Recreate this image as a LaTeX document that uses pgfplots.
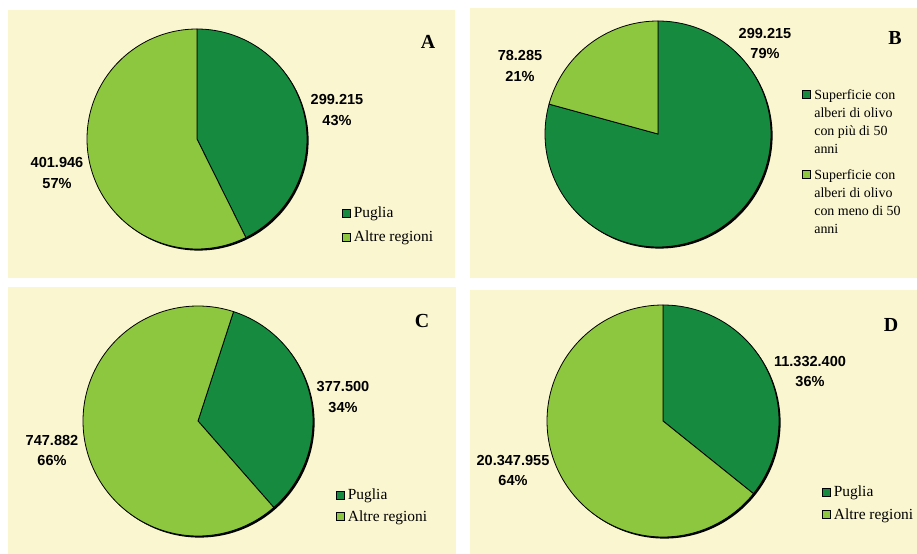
\documentclass[border=0pt]{standalone}
\usepackage{pgfplots}
\pgfplotsset{compat=1.18}
\usepackage{fontspec}
\setmainfont{Liberation Serif}
\newfontfamily\arial{Liberation Sans}
\definecolor{bgc}{RGB}{250,246,208}
\definecolor{dk}{RGB}{22,138,62}
\definecolor{lt}{RGB}{141,198,63}

% data (values)
\def\vAa{299.215}\def\vAb{401.946}
\def\vBa{299.215}\def\vBb{78.285}
\def\vCa{377.500}\def\vCb{747.882}
\def\vDa{11332400}\def\vDb{20347955}
\edef\Aend{\fpeval{round(90-360*\vAa/(\vAa+\vAb),3)}}
\edef\Bend{\fpeval{round(90-360*\vBa/(\vBa+\vBb),3)}}
\edef\Cend{\fpeval{round(72-360*\vCa/(\vCa+\vCb),3)}}
\edef\Dend{\fpeval{round(90-360*\vDa/(\vDa+\vDb),3)}}

\pgfplotsset{
  pie/.style={scale only axis, hide axis, clip=false, y dir=reverse,
    enlargelimits=false, samples=150, legend cell align=left,
    legend image code/.code={\draw[##1,draw=black,line width=0.6bp] (0bp,-4bp) rectangle (8bp,4bp); \path (10.5bp,0bp);},
    legend style={draw=none, fill=none, inner sep=0pt, anchor=north west,
      nodes={inner xsep=0.5bp},
      font=\fontsize{15.5}{17}\selectfont, row sep=7.5bp}},
}
% background rectangle
\newcommand\bgrect[2]{\addplot[fill=bgc, draw=none, forget plot] coordinates {(0,0)(#1,0)(#1,#2)(0,#2)} -- cycle;}
% shadow: cx cy r
\newcommand\shadow[3]{\addplot[fill=black, draw=none, forget plot, domain=0:360] ({#1+1.6+#3*cos(x)},{#2+1.6-#3*sin(x)}) -- cycle;}
% slice: color cx cy r from to
\newcommand\slice[6]{\addplot[fill=#1, draw=black, line width=0.8bp, domain=#5:#6] ({#2+#4*cos(x)},{#3-#4*sin(x)}) -- (axis cs:#2,#3) -- cycle;}
\newcommand\lbl{\arial\bfseries\fontsize{14.6}{20.5}\selectfont}

\begin{document}
\begin{tikzpicture}
\path[use as bounding box] (0,0) rectangle (917bp,554bp);
\fill[white] (0,0) rectangle (917bp,554bp);

% ---------------- A
\begin{axis}[pie, at={(8bp,544bp)}, anchor=north west, width=447bp, height=268bp,
  xmin=0, xmax=447, ymin=0, ymax=268,
  legend style={at={(axis cs:334,195)}}]
\bgrect{447}{268}
\shadow{189}{129}{110}
\slice{dk}{189}{129}{110}{\Aend}{90}
\slice{lt}{189}{129}{110}{-270}{\Aend}
\addlegendentry{Puglia}
\addlegendentry{Altre regioni}
\node[font=\lbl, align=center] at (axis cs:329,100) {299.215\\43\%};
\node[font=\lbl, align=center] at (axis cs:49,163) {401.946\\57\%};
\node[font=\bfseries\fontsize{20}{22}\selectfont] at (axis cs:420,32) {A};
\end{axis}

% ---------------- B
\begin{axis}[pie, at={(470bp,546bp)}, anchor=north west, width=447bp, height=270bp,
  xmin=0, xmax=447, ymin=0, ymax=270,
  legend image code/.code={\draw[#1,draw=black,line width=0.6bp] (0bp,-4bp) rectangle (8bp,4bp);},
  legend style={at={(axis cs:332,77)}, font=\fontsize{14}{18}\selectfont,
    nodes={inner xsep=3.5bp}, row sep=62bp}]
\bgrect{447}{270}
\shadow{188}{126}{113}
\slice{dk}{188}{126}{113}{\Bend}{90}
\slice{lt}{188}{126}{113}{-270}{\Bend}
\addlegendentry{\begin{tabular}[t]{@{}l@{}}Superficie con\\alberi di olivo\\con più di 50\\anni\end{tabular}}
\addlegendentry{\begin{tabular}[t]{@{}l@{}}Superficie con\\alberi di olivo\\con meno di 50\\anni\end{tabular}}
\node[font=\lbl, align=center] at (axis cs:295,35.5) {299.215\\79\%};
\node[font=\lbl, align=center] at (axis cs:50,58) {78.285\\21\%};
\node[font=\bfseries\fontsize{20}{22}\selectfont] at (axis cs:425,30) {B};
\end{axis}

% ---------------- C
\begin{axis}[pie, at={(8bp,267bp)}, anchor=north west, width=448bp, height=267bp,
  xmin=0, xmax=448, ymin=0, ymax=267,
  legend style={at={(axis cs:328,200)}, row sep=5bp}]
\bgrect{448}{267}
\shadow{190}{134}{115}
\slice{dk}{190}{134}{115}{\Cend}{72}
\slice{lt}{190}{134}{115}{-288}{\Cend}
\addlegendentry{Puglia}
\addlegendentry{Altre regioni}
\node[font=\lbl, align=center] at (axis cs:335,110) {377.500\\34\%};
\node[font=\lbl, align=center] at (axis cs:44,163.5) {747.882\\66\%};
\node[font=\bfseries\fontsize{20}{22}\selectfont] at (axis cs:414,34) {C};
\end{axis}

% ---------------- D
\begin{axis}[pie, at={(470bp,264bp)}, anchor=north west, width=447bp, height=264bp,
  xmin=0, xmax=447, ymin=0, ymax=264,
  legend style={at={(axis cs:352,194)}, row sep=6bp}]
\bgrect{447}{264}
\shadow{193}{131}{116}
\slice{dk}{193}{131}{116}{\Dend}{90}
\slice{lt}{193}{131}{116}{-270}{\Dend}
\addlegendentry{Puglia}
\addlegendentry{Altre regioni}
\node[font=\lbl, align=center] at (axis cs:340,81.5) {11.332.400\\36\%};
\node[font=\lbl, align=center] at (axis cs:43,180.5) {20.347.955\\64\%};
\node[font=\bfseries\fontsize{20}{22}\selectfont] at (axis cs:421,35) {D};
\end{axis}
\end{tikzpicture}
\end{document}
